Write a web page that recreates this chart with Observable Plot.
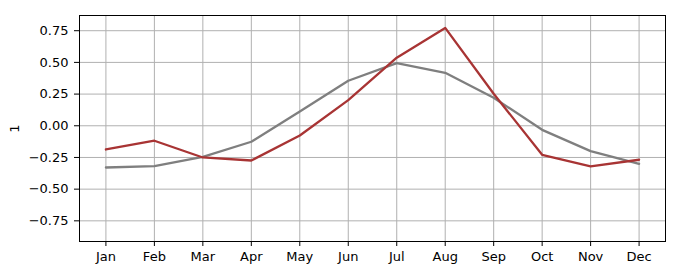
<!DOCTYPE html>
<html>
<head>
<meta charset="utf-8">
<script src="https://cdn.jsdelivr.net/npm/d3@7"></script>
<script src="https://cdn.jsdelivr.net/npm/@observablehq/plot@0.6"></script>
<style>
  body { margin: 0; background: #fff; }
  svg { font-family: "DejaVu Sans", sans-serif; }
</style>
</head>
<body>
<div id="chart"></div>
<script>
const months = ["Jan","Feb","Mar","Apr","May","Jun","Jul","Aug","Sep","Oct","Nov","Dec"];
const grayValues = [-0.329, -0.319, -0.245, -0.126, 0.113, 0.355, 0.494, 0.418, 0.221, -0.032, -0.200, -0.300];
const redValues  = [-0.187, -0.118, -0.250, -0.274, -0.077, 0.202, 0.537, 0.772, 0.253, -0.229, -0.321, -0.268];
const yTicks = [-0.75, -0.5, -0.25, 0, 0.25, 0.5, 0.75];

const gray = months.map((m, i) => ({month: m, value: grayValues[i]}));
const red = months.map((m, i) => ({month: m, value: redValues[i]}));

const chart = Plot.plot({
  width: 680,
  height: 280,
  marginLeft: 79,
  marginRight: 15,
  marginTop: 15,
  marginBottom: 39,
  style: {fontFamily: "DejaVu Sans, sans-serif", fontSize: "13px", color: "#000", background: "#fff"},
  x: {type: "point", domain: months, padding: 0.545, round: false},
  y: {domain: [-0.913, 0.87]},
  marks: [
    Plot.gridX(months, {stroke: "#b0b0b0", strokeOpacity: 1, strokeWidth: 1}),
    Plot.gridY(yTicks, {stroke: "#b0b0b0", strokeOpacity: 1, strokeWidth: 1}),
    Plot.line(gray, {x: "month", y: "value", stroke: "#7f7f7f", strokeWidth: 2.3}),
    Plot.line(red, {x: "month", y: "value", stroke: "#a83434", strokeWidth: 2.3}),
    Plot.frame({stroke: "#000", strokeWidth: 1}),
    Plot.axisX(months, {tickSize: 5, tickPadding: 5, fontSize: 13, label: null}),
    Plot.axisY(yTicks, {tickSize: 5, tickPadding: 6, fontSize: 13, tickFormat: d3.format(".2f"),
      label: "1", labelAnchor: "center", labelArrow: "none", labelOffset: 70})
  ]
});
document.getElementById("chart").appendChild(chart);
</script>
</body>
</html>
